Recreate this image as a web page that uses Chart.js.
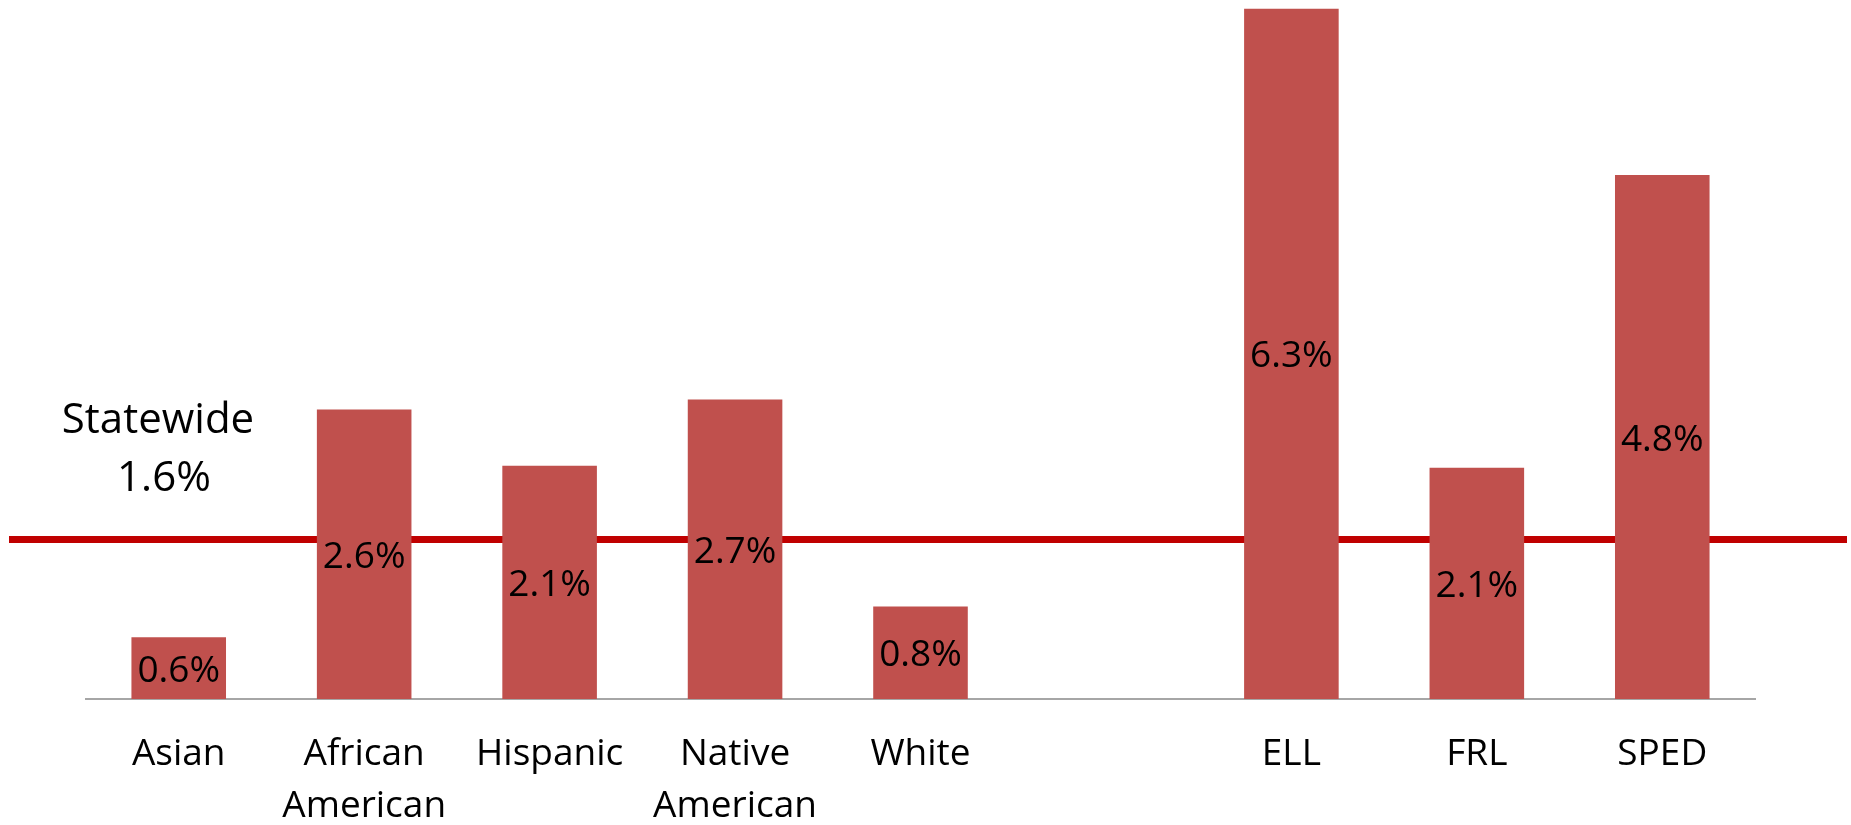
<!DOCTYPE html>
<html>
<head>
<meta charset="utf-8">
<script src="https://cdn.jsdelivr.net/npm/chart.js@4/dist/chart.umd.min.js"></script>
<style>
  html, body { margin: 0; padding: 0; background: #fff; }
  #wrap { width: 1851px; height: 825px; }
</style>
</head>
<body>
<div id="wrap"><canvas id="rates" width="1851" height="825"></canvas></div>
<script>
var categories = [["Asian"], ["African", "American"], ["Hispanic"], ["Native", "American"], ["White"], [""], ["ELL"], ["FRL"], ["SPED"]],
    // bar heights as drawn in the picture
    values = [0.56, 2.63, 2.12, 2.72, 0.84, null, 6.27, 2.10, 4.76],
    // labels printed inside the bars
    valueLabels = ["0.6%", "2.6%", "2.1%", "2.7%", "0.8%", "", "6.3%", "2.1%", "4.8%"],
    statewideLevel = 1.45,
    statewideText = ["Statewide", "1.6%"];

var fontFamily = "'Open Sans', 'Noto Sans', sans-serif";

var statewideLine = {
    id: "statewideLine",
    beforeDatasetsDraw: function (chart) {
        var ctx = chart.ctx,
            y = chart.scales.y.getPixelForValue(statewideLevel);
        ctx.save();
        ctx.strokeStyle = "#C00000";
        ctx.lineWidth = 7;
        ctx.beginPath();
        ctx.moveTo(9, y);
        ctx.lineTo(1847, y);
        ctx.stroke();
        ctx.restore();
    },
    afterDraw: function (chart) {
        var ctx = chart.ctx;
        ctx.save();
        ctx.fillStyle = "#000";
        ctx.font = "42px " + fontFamily;
        ctx.textAlign = "center";
        ctx.textBaseline = "alphabetic";
        ctx.fillText(statewideText[0], 158, 433);
        ctx.fillText(statewideText[1], 164, 491);
        ctx.restore();
    }
};

var barLabels = {
    id: "barLabels",
    afterDatasetsDraw: function (chart) {
        var ctx = chart.ctx,
            meta = chart.getDatasetMeta(0);
        ctx.save();
        ctx.fillStyle = "#000";
        ctx.font = "37px " + fontFamily;
        ctx.textAlign = "center";
        ctx.textBaseline = "middle";
        meta.data.forEach(function (bar, i) {
            if (values[i] === null) return;
            ctx.fillText(valueLabels[i], bar.x, (bar.y + bar.base) / 2 + 3);
        });
        ctx.restore();
    }
};

function drawChart() {
    var data = {
            labels: categories,
            datasets: [{
                data: values,
                backgroundColor: "#C0504D",
                borderWidth: 0,
                categoryPercentage: 1,
                barPercentage: 0.51
            }]
        },
        ctx = document.getElementById("rates");

    new Chart(ctx, {
        type: "bar",
        data: data,
        plugins: [statewideLine, barLabels],
        options: {
            responsive: false,
            animation: false,
            layout: { padding: { left: 86, right: 96, top: 0, bottom: 0 } },
            plugins: {
                legend: { display: false },
                title: { display: false },
                tooltip: { enabled: false }
            },
            scales: {
                x: {
                    grid: { display: false, drawTicks: false },
                    border: { display: true, color: "#A6A6A6", width: 2 },
                    ticks: {
                        color: "#000",
                        padding: 30,
                        maxRotation: 0,
                        autoSkip: false,
                        font: { family: fontFamily, size: 37, lineHeight: 1.4 }
                    },
                    afterFit: function (scale) { scale.height = 126; }
                },
                y: {
                    display: false,
                    min: 0,
                    max: 6.35
                }
            }
        }
    });
}

window.onload = function () {
    drawChart();
};
</script>
</body>
</html>
